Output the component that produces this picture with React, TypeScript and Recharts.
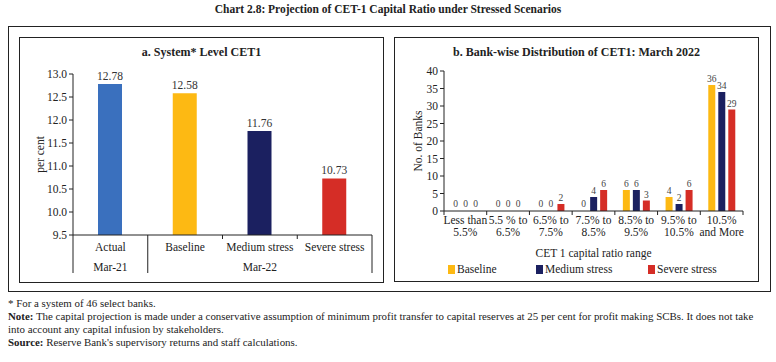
import React from "react";
import { BarChart, Bar, XAxis, YAxis, Cell, LabelList, Legend } from "recharts";

const FONT = "'Liberation Serif', 'DejaVu Serif', serif";
const INK = "#222";

// panel a
const scenarios = ["Actual", "Baseline", "Medium stress", "Severe stress"];
const cet1Values = [12.78, 12.58, 11.76, 10.73];
const scenarioColors = ["#3A70BE", "#FDB913", "#1B2060", "#D52D26"];
const periodLabels = ["Mar-21", "", "Mar-22", ""];
const cet1Ticks = [9.5, 10, 10.5, 11, 11.5, 12, 12.5, 13];

// panel b
const ranges = [
  ["Less than", "5.5%"],
  ["5.5 % to", "6.5%"],
  ["6.5% to", "7.5%"],
  ["7.5% to", "8.5%"],
  ["8.5% to", "9.5%"],
  ["9.5% to", "10.5%"],
  ["10.5%", "and More"],
];
const baseline = [0, 0, 0, 0, 6, 4, 36];
const medium = [0, 0, 0, 4, 6, 2, 34];
const severe = [0, 0, 2, 6, 3, 6, 29];
const bankTicks = [0, 5, 10, 15, 20, 25, 30, 35, 40];

const systemData = scenarios.map((name, i) => ({ name, value: cet1Values[i], period: periodLabels[i] }));
const bankData = ranges.map((r, i) => ({
  name: r.join(" "),
  baseline: baseline[i],
  medium: medium[i],
  severe: severe[i],
}));

const LEFT_W = 364;
const LEFT_H = 245;
const LEFT_BAND = (372 - 73) / scenarios.length;

const RIGHT_W = 364;
const RIGHT_H = 244;
const RIGHT_BAND = (743 - 444) / ranges.length;

function ScenarioTick({ x, y, payload }: any) {
  const i = payload.index;
  const half = LEFT_BAND / 2;
  const period = periodLabels[i];
  return (
    <g>
      <text x={x} y={y + 16} textAnchor="middle" fontSize={11.5} fill={INK} fontFamily={FONT}>
        {payload.value}
      </text>
      {period && (
        <text x={x} y={y + 36} textAnchor="middle" fontSize={11.5} fill={INK} fontFamily={FONT}>
          {period}
        </text>
      )}
      {i === 0 && <line x1={x - half} x2={x - half} y1={y} y2={y + 38} stroke={INK} />}
      {i === 0 && <line x1={x + half} x2={x + half} y1={y} y2={y + 38} stroke={INK} />}
      {(i === 1 || i === 2) && <line x1={x + half} x2={x + half} y1={y} y2={y + 4} stroke={INK} />}
      {i === 3 && <line x1={x + half} x2={x + half} y1={y} y2={y + 38} stroke={INK} />}
    </g>
  );
}

function RangeTick({ x, y, payload }: any) {
  const i = payload.index;
  const half = RIGHT_BAND / 2;
  const [a, b] = ranges[i];
  return (
    <g>
      {i === 0 && <line x1={x - half} x2={x - half} y1={y} y2={y + 4} stroke={INK} />}
      <line x1={x + half} x2={x + half} y1={y} y2={y + 4} stroke={INK} />
      <text x={x} y={y + 13} textAnchor="middle" fontSize={11.5} fill={INK} fontFamily={FONT}>
        {a}
      </text>
      <text x={x} y={y + 25} textAnchor="middle" fontSize={11.5} fill={INK} fontFamily={FONT}>
        {b}
      </text>
    </g>
  );
}

const legendItems = [
  { label: "Baseline", color: scenarioColors[1], left: 54 },
  { label: "Medium stress", color: scenarioColors[2], left: 142 },
  { label: "Severe stress", color: scenarioColors[3], left: 254 },
];

function BankLegend() {
  return (
    <div style={{ position: "relative", width: RIGHT_W, height: 16 }}>
      {legendItems.map((it) => (
        <div
          key={it.label}
          style={{
            position: "absolute",
            left: it.left,
            top: 0,
            height: 16,
            lineHeight: "16px",
            fontSize: 11.5,
            fontFamily: FONT,
            color: INK,
            whiteSpace: "nowrap",
          }}
        >
          <span
            style={{ display: "inline-block", width: 7, height: 9, background: it.color, marginRight: 2, verticalAlign: "-1px" }}
          />
          {it.label}
        </div>
      ))}
    </div>
  );
}

const boxStyle = (left: number, top: number, w: number, h: number, bw = 1.3): React.CSSProperties => ({
  position: "absolute",
  left,
  top,
  width: w,
  height: h,
  border: `${bw}px solid ${INK}`,
  boxSizing: "border-box",
});

const titleStyle: React.CSSProperties = {
  position: "absolute",
  fontFamily: FONT,
  fontWeight: "bold",
  color: INK,
  textAlign: "center",
  whiteSpace: "nowrap",
};

const noteStyle: React.CSSProperties = {
  position: "absolute",
  left: 8,
  fontFamily: FONT,
  fontSize: 10.9,
  color: INK,
  whiteSpace: "nowrap",
};

const bankLabelStyle = { fontSize: 9.5, fill: "#444", fontFamily: FONT };

export default function App() {
  return (
    <div style={{ position: "absolute", left: 0, top: 0, width: 776, height: 362, background: "#fff" }}>
      <div style={{ ...titleStyle, left: 0, top: 3, width: 776, fontSize: 11.5 }}>
        Chart 2.8: Projection of CET-1 Capital Ratio under Stressed Scenarios
      </div>
      <div style={boxStyle(8, 26, 763, 266, 1.5)} />
      <div style={boxStyle(19, 37, 365, 246)} />
      <div style={boxStyle(394, 37, 365, 245)} />

      <div style={{ ...titleStyle, left: 19, top: 45, width: 365, fontSize: 12 }}>a. System* Level CET1</div>
      <div style={{ ...titleStyle, left: 394, top: 45, width: 365, fontSize: 12 }}>
        b. Bank-wise Distribution of CET1: March 2022
      </div>

      <div style={{ position: "absolute", left: 19, top: 37 }}>
        <BarChart width={LEFT_W} height={LEFT_H} data={systemData} margin={{ top: 37, right: 11, bottom: 0, left: 0 }}>
          <XAxis
            dataKey="name"
            height={47}
            tickLine={false}
            tickSize={0}
            tickMargin={0}
            interval={0}
            stroke={INK}
            tick={<ScenarioTick />}
          />
          <YAxis
            width={54}
            domain={[9.5, 13]}
            ticks={cet1Ticks}
            allowDataOverflow
            tickFormatter={(v: number) => v.toFixed(1)}
            tickSize={4}
            tickMargin={2}
            stroke={INK}
            tick={{ fontSize: 11.5, fill: INK, fontFamily: FONT }}
            label={{
              value: "per cent",
              angle: -90,
              position: "insideLeft",
              offset: 21,
              style: { textAnchor: "middle", fontSize: 11.5, fill: INK, fontFamily: FONT },
            }}
          />
          <Bar dataKey="value" barSize={24} isAnimationActive={false}>
            {systemData.map((_d, i) => (
              <Cell key={i} fill={scenarioColors[i]} />
            ))}
            <LabelList
              dataKey="value"
              position="top"
              offset={4}
              formatter={(v: any) => Number(v).toFixed(2)}
              style={{ fontSize: 11.5, fill: "#333", fontFamily: FONT }}
            />
          </Bar>
        </BarChart>
      </div>

      <div style={{ position: "absolute", left: 394, top: 37 }}>
        <BarChart
          width={RIGHT_W}
          height={RIGHT_H}
          data={bankData}
          margin={{ top: 34, right: 15, bottom: 4, left: 0 }}
          barSize={7}
          barGap={3}
        >
          <XAxis
            dataKey="name"
            height={50}
            tickLine={false}
            tickSize={0}
            tickMargin={0}
            interval={0}
            stroke={INK}
            tick={<RangeTick />}
            label={{
              value: "CET 1 capital ratio range",
              position: "insideBottom",
              offset: 4,
              style: { fontSize: 11.5, fill: INK, fontFamily: FONT },
            }}
          />
          <YAxis
            width={50}
            domain={[0, 40]}
            ticks={bankTicks}
            tickSize={4}
            tickMargin={2}
            stroke={INK}
            tick={{ fontSize: 11.5, fill: INK, fontFamily: FONT }}
            label={{
              value: "No. of Banks",
              angle: -90,
              position: "insideLeft",
              offset: 24,
              style: { textAnchor: "middle", fontSize: 11.5, fill: INK, fontFamily: FONT },
            }}
          />
          <Legend verticalAlign="bottom" content={<BankLegend />} />
          <Bar dataKey="baseline" minPointSize={1} isAnimationActive={false}>
            {baseline.map((v, i) => (
              <Cell key={i} fill={v === 0 ? "transparent" : scenarioColors[1]} />
            ))}
            <LabelList dataKey="baseline" position="top" offset={3} style={bankLabelStyle} />
          </Bar>
          <Bar dataKey="medium" minPointSize={1} isAnimationActive={false}>
            {medium.map((v, i) => (
              <Cell key={i} fill={v === 0 ? "transparent" : scenarioColors[2]} />
            ))}
            <LabelList dataKey="medium" position="top" offset={3} style={bankLabelStyle} />
          </Bar>
          <Bar dataKey="severe" minPointSize={1} isAnimationActive={false}>
            {severe.map((v, i) => (
              <Cell key={i} fill={v === 0 ? "transparent" : scenarioColors[3]} />
            ))}
            <LabelList dataKey="severe" position="top" offset={3} style={bankLabelStyle} />
          </Bar>
        </BarChart>
      </div>

      <div style={{ ...noteStyle, top: 297 }}>* For a system of 46 select banks.</div>
      <div style={{ ...noteStyle, top: 310 }}>
        <b>Note:</b> The capital projection is made under a conservative assumption of minimum profit transfer to capital
        reserves at 25 per cent for profit making SCBs. It does not take
      </div>
      <div style={{ ...noteStyle, top: 323 }}>into account any capital infusion by stakeholders.</div>
      <div style={{ ...noteStyle, top: 336 }}>
        <b>Source:</b> Reserve Bank's supervisory returns and staff calculations.
      </div>
    </div>
  );
}
